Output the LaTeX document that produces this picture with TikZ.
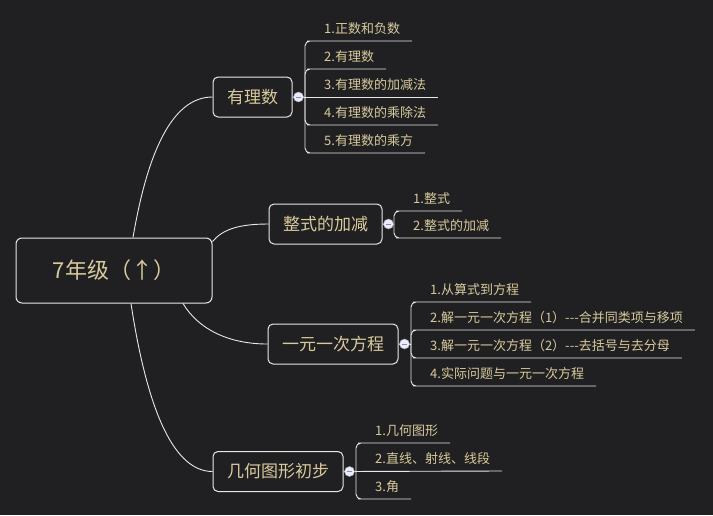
\documentclass[tikz,border=0pt]{standalone}
\usepackage{fontspec}
\setmainfont{Noto Sans CJK SC}[Ligatures=TeXOff]
\usetikzlibrary{shapes,positioning}
\definecolor{bgdark}{HTML}{202022}
\definecolor{topictext}{HTML}{D8CA9C}
\definecolor{lineclr}{HTML}{E8E8E8}
\definecolor{foldbar}{HTML}{8090A8}

\begin{document}
\begin{tikzpicture}[x=1pt,y=-1pt,
  central/.style={rectangle, rounded corners=6pt, draw=lineclr, line width=1pt, text=topictext, font=\fontsize{22}{26}\selectfont, minimum width=196pt, minimum height=65pt},
  topic/.style={rectangle, rounded corners=5pt, draw=lineclr, line width=1pt, text=topictext, font=\fontsize{17}{20}\selectfont, inner xsep=14pt, minimum height=40pt},
  leaf/.style={anchor=south west, inner xsep=12pt, inner ysep=4pt, text height=10pt, text depth=3.5pt, text=topictext, font=\fontsize{13}{15}\selectfont},
  conn/.style={draw=lineclr, line width=0.9pt},
  bracket/.style={conn, rounded corners=5pt},
  fold/.style={circle, draw=gray!70, fill=white!92!blue, minimum size=10pt, inner sep=0pt,
    path picture={\draw[foldbar, line width=1pt] ([xshift=-2.5pt]path picture bounding box.center) -- ([xshift=2.5pt]path picture bounding box.center);}}]
\fill[bgdark] (0,0) rectangle (713,515);
\useasboundingbox (0,0) rectangle (713,515);

% Central topic
\node[central] (root) at (114,270.5) {7年级（↑）};

% Main topics
\node[topic] (rational) at (252.5,97) {有理数};
\node[topic] (poly) at (325.5,224) {整式的加减};
\node[topic] (equation) at (333,344) {一元一次方程};
\node[topic] (geometry) at (278,471.5) {几何图形初步};

\draw[conn] ([xshift=19pt]root.north) .. controls +(16,-94) and +(-37,0) .. (rational.west);
\draw[conn] ([yshift=-4pt]root.north east) .. controls +(10,-12) and +(-30,0) .. (poly.west);
\draw[conn] ([xshift=69pt]root.south) .. controls +(15,25) and +(-40,0) .. (equation.west);
\draw[conn] ([xshift=17pt]root.south) .. controls +(17,112) and +(-37,0) .. (geometry.west);

% Rational numbers
\node[leaf] (r1) at (312,41) {1.正数和负数};
\node[leaf] (r2) at (312,69) {2.有理数};
\node[leaf] (r3) at (312,97) {3.有理数的加减法};
\node[leaf] (r4) at (312,125) {4.有理数的乘除法};
\node[leaf] (r5) at (312,153) {5.有理数的乘方};
\coordinate (rk) at (305,97);
\draw[conn] (rational.east) -- (r3.south east);
\foreach \l in {r1,r2,r4,r5} \draw[bracket] (rk) |- (\l.south west) -- (\l.south east);

% Polynomials
\node[leaf] (p1) at (401,211) {1.整式};
\node[leaf] (p2) at (401,238) {2.整式的加减};
\coordinate (pk) at (394,224);
\draw[conn] (poly.east) -- (pk);
\foreach \l in {p1,p2} \draw[bracket] (pk) |- (\l.south west) -- (\l.south east);

% Linear equations
\node[leaf] (e1) at (418,302) {1.从算式到方程};
\node[leaf] (e2) at (418,330) {2.解一元一次方程（1）---合并同类项与移项};
\node[leaf] (e3) at (418,358) {3.解一元一次方程（2）---去括号与去分母};
\node[leaf] (e4) at (418,386) {4.实际问题与一元一次方程};
\coordinate (ek) at (411,344);
\draw[conn] (equation.east) -- (ek);
\foreach \l in {e1,e2,e3,e4} \draw[bracket] (ek) |- (\l.south west) -- (\l.south east);

% Geometry
\node[leaf] (g1) at (363,443) {1.几何图形};
\node[leaf] (g2) at (363,471) {2.直线、射线、线段};
\node[leaf] (g3) at (363,499) {3.角};
\coordinate (gk) at (356,471);
\draw[conn] (geometry.east) -- (g2.south east);
\foreach \l in {g1,g3} \draw[bracket] (gk) |- (\l.south west) -- (\l.south east);

% Fold markers
\node[fold] (rfold) at ([xshift=6pt]rational.east) {};
\node[fold] (pfold) at ([xshift=6pt]poly.east) {};
\node[fold] (efold) at ([xshift=6pt]equation.east) {};
\node[fold] (gfold) at ([xshift=6pt]geometry.east) {};
\end{tikzpicture}
\end{document}
